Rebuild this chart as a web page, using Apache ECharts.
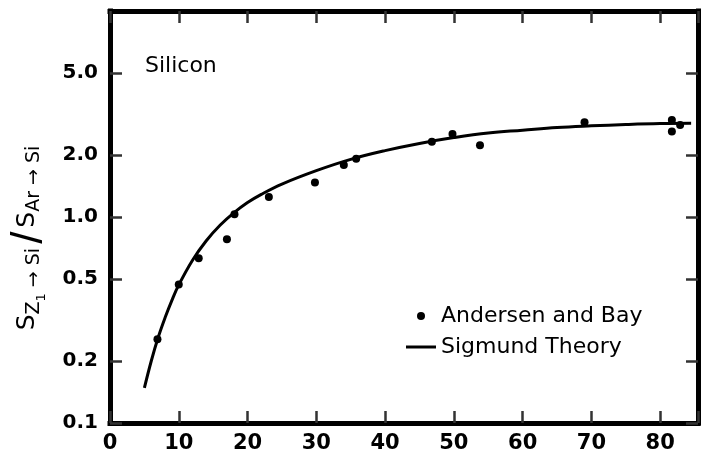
<!DOCTYPE html>
<html>
<head>
<meta charset="utf-8">
<script src="https://cdn.jsdelivr.net/npm/echarts@6/dist/echarts.min.js"></script>
<style>
html,body{margin:0;padding:0;background:#fff}
#chart{width:702px;height:454px}
</style>
</head>
<body>
<div id="chart"></div>
<script>
// Andersen and Bay (points)
var expZ = [6.9, 10.0, 12.9, 17.0, 18.1, 23.1, 29.8, 34.0, 35.8, 46.8, 49.8, 53.8, 69.0, 81.7, 81.7, 82.9];
var expRatio = [0.255, 0.47, 0.63, 0.78, 1.03, 1.25, 1.47, 1.79, 1.92, 2.32, 2.53, 2.23, 2.88, 2.96, 2.60, 2.80];
// Sigmund theory (curve)
var theoryZ = [5, 6, 7, 8, 9, 10, 12, 14, 16, 18, 20, 22, 25, 30, 35, 40, 45, 50, 55, 60, 65, 70, 75, 80, 84.5];
var theoryRatio = [0.148, 0.20, 0.26, 0.324, 0.394, 0.468, 0.617, 0.767, 0.912, 1.047, 1.175, 1.288, 1.445, 1.679, 1.905, 2.10, 2.275, 2.43, 2.56, 2.64, 2.72, 2.77, 2.81, 2.84, 2.85];
// tick labels
var xTicks = [0, 10, 20, 30, 40, 50, 60, 70, 80];
var yTicks = [0.1, 0.2, 0.5, 1, 2, 5];

var FONT = 'DejaVu Sans';
var TICK = '#333'; // pure black ticks do not show up here
var chart = echarts.init(document.getElementById('chart'));

function pairs(xs, ys) {
  var out = [];
  for (var i = 0; i < xs.length; i++) out.push([xs[i], ys[i]]);
  return out;
}

var option = {
  animation: false,
  grid: {left: 110, right: 4, top: 11, bottom: 31},
  xAxis: [
    {type: 'value', position: 'bottom', min: 0, max: 85.5, interval: 10,
     axisLine: {show: true, onZero: false, lineStyle: {color: '#000', width: 5, cap: 'square'}},
     axisTick: {show: true, inside: true, length: 12, lineStyle: {color: TICK, width: 2.5}},
     axisLabel: {margin: 10, color: '#000', fontFamily: FONT, fontWeight: 'bold', fontSize: 21,
       formatter: function (v) { return xTicks.indexOf(v) >= 0 ? String(v) : ''; }},
     splitLine: {show: false}},
    {type: 'value', position: 'top', min: 0, max: 85.5, interval: 10,
     axisLine: {show: true, onZero: false, lineStyle: {color: '#000', width: 5, cap: 'square'}},
     axisTick: {show: true, inside: true, length: 12, lineStyle: {color: TICK, width: 2.5}},
     axisLabel: {show: false}, splitLine: {show: false}}
  ],
  yAxis: [
    {type: 'log', min: 0.1, max: 10, position: 'left',
     axisLine: {show: true, onZero: false, lineStyle: {color: '#000', width: 5, cap: 'square'}},
     axisTick: {show: true, inside: true, length: 12, customValues: yTicks, lineStyle: {color: TICK, width: 2.5}},
     axisLabel: {customValues: yTicks, margin: 12, color: '#000', fontFamily: FONT, fontWeight: 'bold', fontSize: 20,
       formatter: function (v) { return v.toFixed(1); }},
     splitLine: {show: false}},
    {type: 'log', min: 0.1, max: 10, position: 'right',
     axisLine: {show: true, onZero: false, lineStyle: {color: '#000', width: 5, cap: 'square'}},
     axisTick: {show: true, inside: true, length: 12, customValues: yTicks, lineStyle: {color: TICK, width: 2.5}},
     axisLabel: {show: false}, splitLine: {show: false}}
  ],
  legend: {
    orient: 'vertical', left: 406, top: 303, padding: 0,
    itemWidth: 30, itemHeight: 8, itemGap: 5,
    textStyle: {fontFamily: FONT, fontSize: 22, color: '#000', lineHeight: 26},
    data: [
      {name: 'Andersen and Bay', icon: 'circle'},
      {name: 'Sigmund Theory', icon: 'path://M0,0H30V3H0Z'}
    ]
  },
  graphic: [
    {type: 'text', left: 145, top: 55, style: {text: 'Silicon', fontFamily: FONT, fontSize: 22, fill: '#000'}},
    {
      type: 'text', x: 27, y: 238, rotation: Math.PI / 2,
      style: {
        text: '{S|S}{sub|Z}{ss|1}{sub| \u2192 Si}{sl|/}{S|S}{sub|Ar \u2192 Si}',
        align: 'center', verticalAlign: 'middle', fill: '#000',
        rich: {
          S: {fontFamily: FONT, fontSize: 25, fill: '#000'},
          sub: {fontFamily: FONT, fontSize: 19, fill: '#000', padding: [14, 0, 0, 0]},
          ss: {fontFamily: FONT, fontSize: 13, fill: '#000', padding: [30, 0, 0, 0]},
          sl: {fontFamily: 'Liberation Sans', fontSize: 44, fill: '#000', padding: [6, 4, 0, 4]}
        }
      }
    }
  ],
  series: [
    {
      name: 'Sigmund Theory', type: 'line', smooth: 0.4, symbol: 'none',
      data: pairs(theoryZ, theoryRatio),
      lineStyle: {color: '#000', width: 3},
      itemStyle: {color: '#000'}
    },
    {
      name: 'Andersen and Bay', type: 'scatter', symbol: 'circle', symbolSize: 8,
      data: pairs(expZ, expRatio),
      itemStyle: {color: '#000', opacity: 1}
    }
  ]
};
chart.setOption(option);
</script>
</body>
</html>
